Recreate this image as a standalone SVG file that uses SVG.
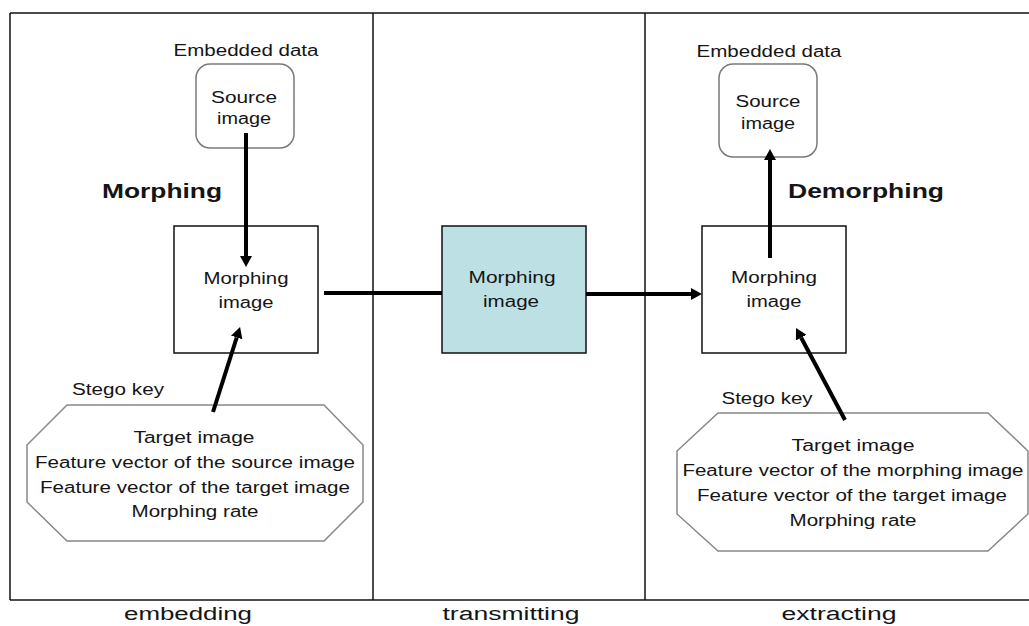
<svg xmlns="http://www.w3.org/2000/svg" width="1029" height="626" viewBox="0 0 1029 626">
<style>
  text { font-family: "Liberation Sans", Arial, sans-serif; fill: #151515; text-anchor: middle; }
  .t { font-size: 16px; }
  .b { font-size: 20px; font-weight: bold; }
  .s { font-size: 18px; }
  .frame { stroke: #111; stroke-width: 1.5; fill: none; }
  .box { stroke: #111; stroke-width: 1.5; fill: #fff; }
  .rbox { stroke: #7a7a7a; stroke-width: 1.5; fill: #fff; }
  .oct { stroke: #888; stroke-width: 1.5; fill: #fff; }
  .conn { stroke: #000; stroke-width: 4; fill: none; }
</style>
<defs>
  <marker id="ah" viewBox="0 0 11 12" refX="0" refY="6" markerWidth="11" markerHeight="12" markerUnits="userSpaceOnUse" orient="auto">
    <path d="M0,0 L11,6 L0,12 z" fill="#000"/>
  </marker>
</defs>
<rect width="1029" height="626" fill="#fff"/>
<g id="frame">
  <line class="frame" x1="10" y1="13" x2="1029" y2="13"/>
  <line class="frame" x1="10" y1="600" x2="1029" y2="600"/>
  <line class="frame" x1="10" y1="13" x2="10" y2="600"/>
  <line class="frame" x1="373" y1="13" x2="373" y2="600"/>
  <line class="frame" x1="645" y1="13" x2="645" y2="600"/>
  <text class="s" x="188" y="620" textLength="128" lengthAdjust="spacingAndGlyphs">embedding</text>
  <text class="s" x="511" y="620" textLength="137" lengthAdjust="spacingAndGlyphs">transmitting</text>
  <text class="s" x="839" y="620" textLength="115" lengthAdjust="spacingAndGlyphs">extracting</text>
</g>
<g id="left-source">
  <text class="t" x="246" y="56" textLength="145" lengthAdjust="spacingAndGlyphs">Embedded data</text>
  <rect class="rbox" x="196" y="64" width="98" height="84" rx="14"/>
  <text class="t" x="244" y="103" textLength="66" lengthAdjust="spacingAndGlyphs">Source</text>
  <text class="t" x="244" y="124" textLength="54" lengthAdjust="spacingAndGlyphs">image</text>
</g>
<g id="morphing-label">
  <text class="b" x="162" y="198" textLength="120" lengthAdjust="spacingAndGlyphs">Morphing</text>
</g>
<g id="left-morph">
  <rect class="box" x="174" y="226" width="144" height="127"/>
  <text class="t" x="246" y="284" textLength="85" lengthAdjust="spacingAndGlyphs">Morphing</text>
  <text class="t" x="246" y="308" textLength="55" lengthAdjust="spacingAndGlyphs">image</text>
</g>
<g id="left-stego">
  <text class="t" x="118" y="395" textLength="92" lengthAdjust="spacingAndGlyphs">Stego key</text>
  <polygon class="oct" points="67,405 324,405 363,445 363,502 324,541 67,541 27,502 27,445"/>
  <text class="t" x="194" y="443" textLength="121" lengthAdjust="spacingAndGlyphs">Target image</text>
  <text class="t" x="195" y="468" textLength="320" lengthAdjust="spacingAndGlyphs">Feature vector of the source image</text>
  <text class="t" x="195" y="493" textLength="310" lengthAdjust="spacingAndGlyphs">Feature vector of the target image</text>
  <text class="t" x="195" y="517" textLength="127" lengthAdjust="spacingAndGlyphs">Morphing rate</text>
</g>
<g id="center-morph">
  <rect x="442" y="226" width="144" height="127" fill="#bde0e4" stroke="#111" stroke-width="1.5"/>
  <text class="t" x="512" y="283" textLength="87" lengthAdjust="spacingAndGlyphs">Morphing</text>
  <text class="t" x="511" y="307" textLength="56" lengthAdjust="spacingAndGlyphs">image</text>
</g>
<g id="right-source">
  <text class="t" x="769" y="57" textLength="145" lengthAdjust="spacingAndGlyphs">Embedded data</text>
  <rect class="rbox" x="719" y="64" width="98" height="93" rx="14"/>
  <text class="t" x="768" y="107" textLength="65" lengthAdjust="spacingAndGlyphs">Source</text>
  <text class="t" x="768" y="129" textLength="54" lengthAdjust="spacingAndGlyphs">image</text>
</g>
<g id="demorphing-label">
  <text class="b" x="866" y="198" textLength="156" lengthAdjust="spacingAndGlyphs">Demorphing</text>
</g>
<g id="right-morph">
  <rect class="box" x="702" y="226" width="144" height="127"/>
  <text class="t" x="774" y="283" textLength="86" lengthAdjust="spacingAndGlyphs">Morphing</text>
  <text class="t" x="774" y="307" textLength="55" lengthAdjust="spacingAndGlyphs">image</text>
</g>
<g id="right-stego">
  <text class="t" x="767" y="404" textLength="91" lengthAdjust="spacingAndGlyphs">Stego key</text>
  <polygon class="oct" points="718,413 988,413 1028,451 1028,514 988,551 718,551 677,514 677,451"/>
  <text class="t" x="853" y="451" textLength="123" lengthAdjust="spacingAndGlyphs">Target image</text>
  <text class="t" x="853" y="476" textLength="341" lengthAdjust="spacingAndGlyphs">Feature vector of the morphing image</text>
  <text class="t" x="852" y="501" textLength="310" lengthAdjust="spacingAndGlyphs">Feature vector of the target image</text>
  <text class="t" x="853" y="526" textLength="127" lengthAdjust="spacingAndGlyphs">Morphing rate</text>
</g>
<g id="connectors">
  <line class="conn" x1="246" y1="133" x2="246" y2="256" marker-end="url(#ah)"/>
  <line class="conn" x1="213" y1="412" x2="236.7" y2="337.5" marker-end="url(#ah)"/>
  <line class="conn" x1="324" y1="293" x2="442" y2="293"/>
  <line class="conn" x1="586" y1="294" x2="691" y2="294" marker-end="url(#ah)"/>
  <line class="conn" x1="770" y1="258" x2="770" y2="160" marker-end="url(#ah)"/>
  <line class="conn" x1="845" y1="420" x2="801.2" y2="337.7" marker-end="url(#ah)"/>
</g>
</svg>
